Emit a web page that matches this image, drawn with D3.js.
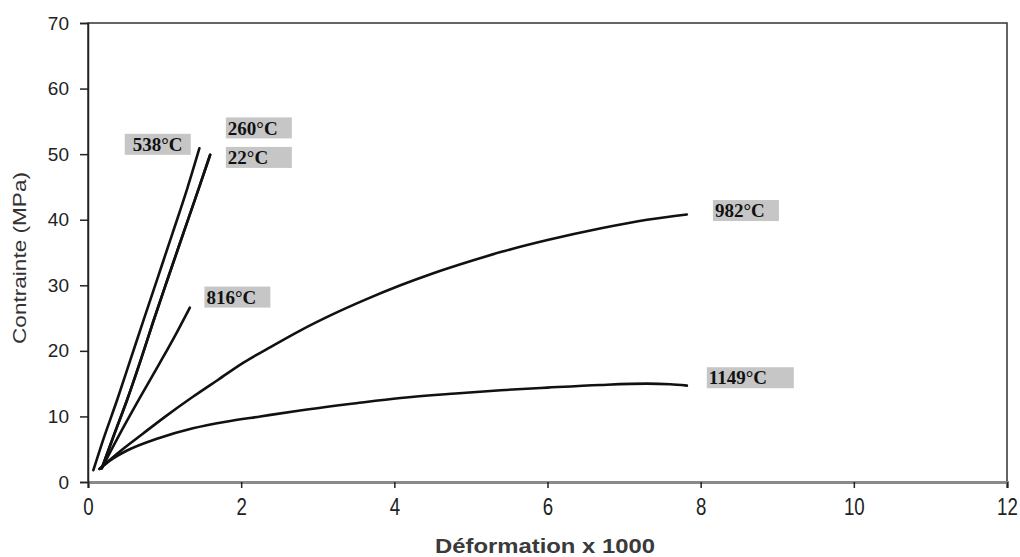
<!DOCTYPE html>
<html>
<head>
<meta charset="utf-8">
<script src="https://cdn.jsdelivr.net/npm/d3@7"></script>
<style>
  body { margin: 0; background: #fff; }
  .axis text { font-family: "Liberation Sans", Arial, sans-serif; fill: #222; }
  .lbl text { font-family: "Liberation Serif", "Times New Roman", serif; font-weight: bold; fill: #111; }
</style>
</head>
<body>
<svg class="chart"></svg>
<script>
var width = 1020,
    height = 557,
    margin = { top: 23, right: 13, bottom: 75, left: 88 }

// strain (x1000) / stress (MPa)
var s22_x = [0.18, 0.35, 0.51, 0.70, 0.85, 1.05, 1.25, 1.45, 1.595]
var s22_y = [2.1, 7.5, 12.5, 19.0, 24.4, 31.3, 38.1, 44.9, 49.9]
var s260_x = [0.18, 0.35, 0.51, 0.70, 0.85, 1.05, 1.25, 1.45, 1.595]
var s260_y = [2.1, 7.5, 12.5, 19.0, 24.4, 31.3, 38.1, 44.9, 49.9]
var s538_x = [0.07, 0.20, 0.38, 0.55, 0.72, 0.90, 1.10, 1.30, 1.455]
var s538_y = [1.8, 6.5, 12.5, 18.5, 24.5, 30.8, 37.8, 44.9, 50.9]
var s816_x = [0.18, 0.40, 0.68, 0.94, 1.15, 1.33]
var s816_y = [2.1, 7.0, 12.9, 18.2, 22.6, 26.6]
var s982_x = [0.15, 0.40, 0.72, 1.00, 1.37, 1.70, 2.03, 2.40, 2.77, 3.20, 3.60, 4.08, 4.50, 5.00, 5.40, 6.00, 6.70, 7.30, 7.82]
var s982_y = [2.0, 4.5, 7.4, 9.9, 13.0, 15.6, 18.2, 20.7, 23.1, 25.6, 27.7, 30.0, 31.8, 33.7, 35.1, 36.9, 38.7, 40.0, 40.8]
var s1149_x = [0.15, 0.29, 0.51, 0.90, 1.37, 1.80, 2.25, 2.77, 3.50, 4.08, 4.80, 5.39, 6.00, 6.69, 7.30, 7.60, 7.82]
var s1149_y = [2.0, 3.3, 4.8, 6.6, 8.2, 9.2, 10.0, 10.9, 12.0, 12.8, 13.5, 14.0, 14.4, 14.8, 15.0, 14.9, 14.7]

var seriesNames = ["22°C", "260°C", "538°C", "816°C", "982°C", "1149°C"]
var seriesX = [s22_x, s260_x, s538_x, s816_x, s982_x, s1149_x]
var seriesY = [s22_y, s260_y, s538_y, s816_y, s982_y, s1149_y]

// label anchors (left edge of the grey box, middle), in data units
var labelX = [1.80, 1.80, 0.48, 1.52, 8.16, 8.08]
var labelY = [49.5, 54.0, 51.5, 28.2, 41.4, 15.9]

var xTicks = [0, 2, 4, 6, 8, 10, 12]
var yTicks = [0, 10, 20, 30, 40, 50, 60, 70]

var svg = d3.select(".chart")
    .attr("width", width)
    .attr("height", height)

var xScale = d3.scaleLinear().domain([0, 12]).range([margin.left, width - margin.right])
var yScale = d3.scaleLinear().domain([0, 70]).range([height - margin.bottom, margin.top])

// frame
svg.append("rect")
    .attr("x", xScale(0)).attr("y", yScale(70))
    .attr("width", xScale(12) - xScale(0)).attr("height", yScale(0) - yScale(70))
    .attr("fill", "none").attr("stroke", "#333").attr("stroke-width", 1.5)

var xAxisCall = d3.axisBottom(xScale).tickValues(xTicks).tickSize(6).tickPadding(8).tickFormat(d3.format("d"))
var yAxisCall = d3.axisLeft(yScale).tickValues(yTicks).tickSize(8).tickPadding(11).tickFormat(d3.format("d"))

var gx = svg.append("g")
    .attr("class", "x axis")
    .attr("transform", `translate(0,${yScale(0)})`)
    .call(xAxisCall)
gx.select(".domain").attr("stroke", "#8a8a8a").attr("stroke-width", 3)
gx.selectAll(".tick line").attr("stroke", "#222").attr("stroke-width", 1.5)
gx.selectAll(".tick text").style("font-size", "22px").attr("transform", "scale(0.85,1.1)")

var gy = svg.append("g")
    .attr("class", "y axis")
    .attr("transform", `translate(${xScale(0)},0)`)
    .call(yAxisCall)
gy.select(".domain").attr("stroke", "#222").attr("stroke-width", 1.5)
gy.selectAll(".tick line").attr("stroke", "#222").attr("stroke-width", 1.5)
gy.selectAll(".tick text").style("font-size", "19px")

// axis titles
svg.append("text")
    .attr("x", 545).attr("y", 553)
    .attr("text-anchor", "middle")
    .attr("textLength", 220).attr("lengthAdjust", "spacingAndGlyphs")
    .style("font-family", "'Liberation Sans', Arial, sans-serif")
    .style("font-size", "20px").style("font-weight", "bold").style("fill", "#3a3a3a")
    .text("Déformation x 1000")

svg.append("text")
    .attr("transform", "translate(26,258) rotate(-90)")
    .attr("text-anchor", "middle")
    .attr("textLength", 172).attr("lengthAdjust", "spacingAndGlyphs")
    .style("font-family", "'Liberation Sans', Arial, sans-serif")
    .style("font-size", "19px").style("fill", "#333")
    .text("Contrainte (MPa)")

// curves
var line = d3.line()
    .x(d => xScale(d[0]))
    .y(d => yScale(d[1]))
    .curve(d3.curveMonotoneX)

svg.append("g")
    .attr("class", "lines")
    .attr("fill", "none")
    .attr("stroke", "#111")
    .attr("stroke-width", 2.6)
    .attr("stroke-linejoin", "round")
    .attr("stroke-linecap", "round")
    .selectAll("path")
    .data(seriesX.map((xs, i) => xs.map((x, j) => [x, seriesY[i][j]])))
    .join("path")
    .attr("d", d => line(d))

// temperature labels
var lbl = svg.append("g").attr("class", "lbl")
    .selectAll("g")
    .data(seriesNames.map((n, i) => ({ name: n, x: labelX[i], y: labelY[i] })))
    .join("g")
    .attr("transform", d => `translate(${xScale(d.x)},${yScale(d.y)})`)

lbl.append("rect")
    .attr("y", -10.5)
    .attr("height", 21)
    .attr("width", d => d.name.length > 5 ? 87 : 66)
    .attr("fill", "#c6c6c6")

lbl.append("text")
    .attr("x", d => d.name === "538°C" ? 8 : 2)
    .attr("dy", "0.35em")
    .style("font-size", "19px")
    .text(d => d.name)
</script>
</body>
</html>
